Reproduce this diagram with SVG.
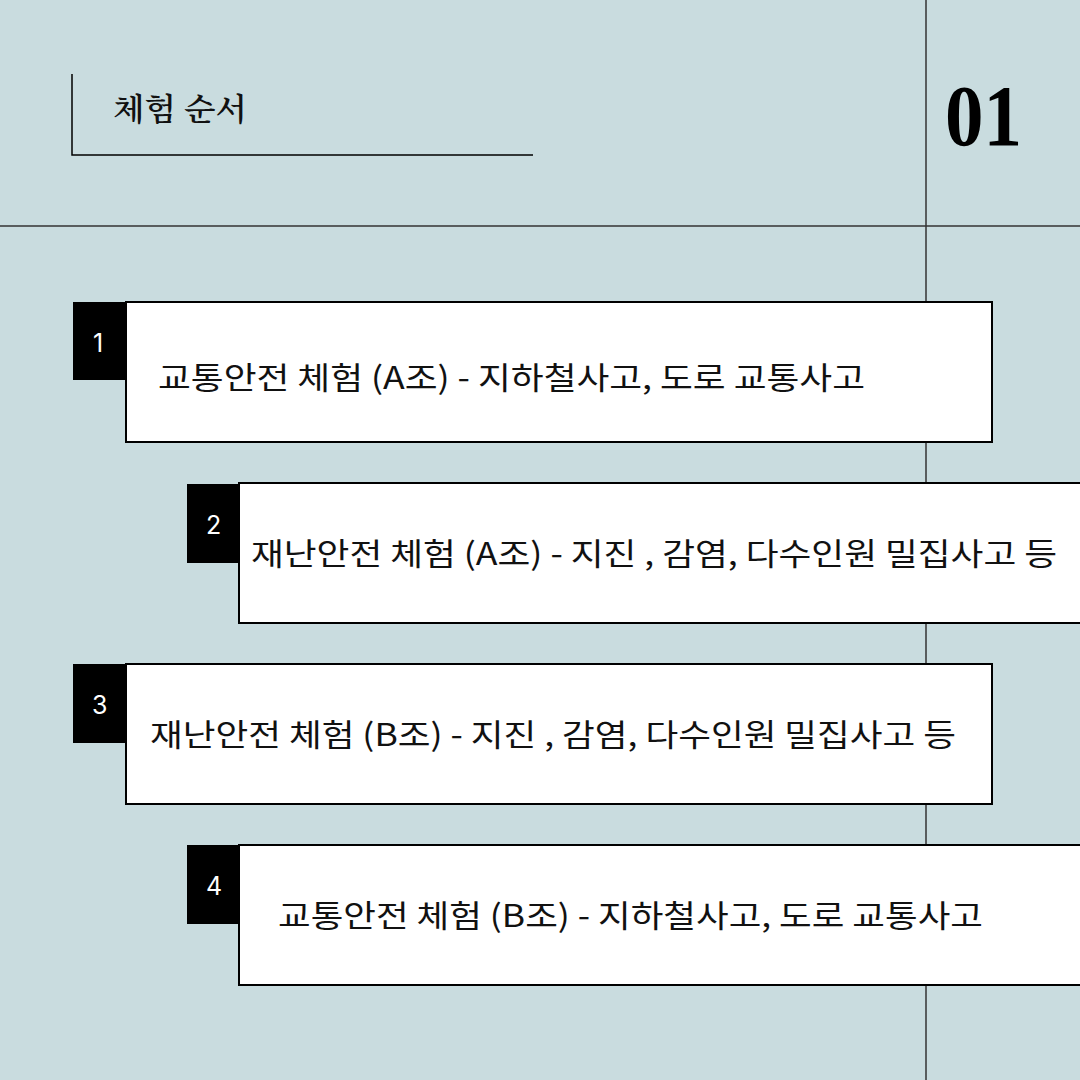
<svg xmlns="http://www.w3.org/2000/svg" width="1080" height="1080" viewBox="0 0 1080 1080">
<style>
.bg{fill:#C9DCDF}
.grid{stroke:#333;stroke-width:1.5;fill:none}
.box{fill:#fff;stroke:#000;stroke-width:2}
.tag{fill:#000}
.num{fill:#fff;font-family:Inter,"Noto Sans",sans-serif;font-size:25px}
.txt{fill:#111;font-family:"Noto Sans CJK KR",sans-serif;font-size:31px}
</style>
<rect class="bg" x="0" y="0" width="1080" height="1080"/>
<g id="frame">
<line class="grid" x1="926" y1="0" x2="926" y2="1080"/>
<line class="grid" x1="0" y1="226" x2="1080" y2="226"/>
<polyline points="72,74 72,155 533,155" fill="none" stroke="#000" stroke-width="1.5"/>
<text x="113" y="120" font-family="'Noto Serif CJK KR','Noto Sans CJK KR',serif" font-size="31" font-weight="600" fill="#111" textLength="134" lengthAdjust="spacingAndGlyphs">체험 순서</text>
<text x="945" y="145" font-family="'Liberation Serif',serif" font-size="86" font-weight="bold" fill="#000" textLength="77" lengthAdjust="spacingAndGlyphs">01</text>
</g>
<g id="connectors"></g>
<g id="step1">
<rect class="box" x="126" y="302" width="866" height="140"/>
<rect class="tag" x="73" y="302" width="53" height="78"/>
<text class="num" x="93" y="352">1</text>
<text class="txt" x="158" y="389" textLength="707" lengthAdjust="spacingAndGlyphs">교통안전 체험 (A조) - 지하철사고, 도로 교통사고</text>
</g>
<g id="step2">
<rect class="box" x="239" y="483" width="850" height="140"/>
<rect class="tag" x="187" y="484" width="52" height="79"/>
<text class="num" x="206" y="534">2</text>
<text class="txt" x="251" y="565" textLength="806" lengthAdjust="spacingAndGlyphs">재난안전 체험 (A조) - 지진 , 감염, 다수인원 밀집사고 등</text>
</g>
<g id="step3">
<rect class="box" x="126" y="664" width="866" height="140"/>
<rect class="tag" x="73" y="664" width="53" height="79"/>
<text class="num" x="92" y="714">3</text>
<text class="txt" x="150" y="746" textLength="806" lengthAdjust="spacingAndGlyphs">재난안전 체험 (B조) - 지진 , 감염, 다수인원 밀집사고 등</text>
</g>
<g id="step4">
<rect class="box" x="239" y="845" width="850" height="140"/>
<rect class="tag" x="187" y="845" width="52" height="79"/>
<text class="num" x="206" y="895">4</text>
<text class="txt" x="278" y="927" textLength="705" lengthAdjust="spacingAndGlyphs">교통안전 체험 (B조) - 지하철사고, 도로 교통사고</text>
</g>
</svg>
